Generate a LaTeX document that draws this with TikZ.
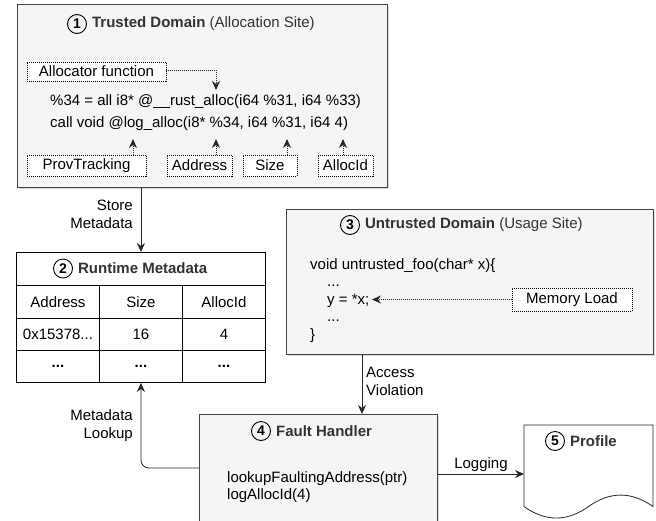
\documentclass[tikz,border=0pt]{standalone}
\usepackage{fontspec}
\setmainfont{Liberation Sans}
\usetikzlibrary{arrows.meta}
\definecolor{boxfill}{HTML}{F5F5F5}
\definecolor{boxline}{HTML}{444444}
\definecolor{titlecol}{HTML}{333333}
\begin{document}
\begin{tikzpicture}[x=1pt,y=-1pt, font=\fontsize{15}{17.5}\selectfont,
 dombox/.style={draw=boxline, fill=boxfill, line width=0.9pt, inner sep=0pt, anchor=north west},
 shadowbox/.style={fill=black!14, draw=none},
 lbl/.style={draw=black, dash pattern=on 1pt off 1pt, fill=white, line width=0.7pt, inner sep=0pt},
 circnum/.style={circle, draw=black, line width=0.9pt, inner sep=0pt, minimum size=19pt, font=\fontsize{14}{14}\selectfont\bfseries},
 ttl/.style={anchor=west, text=titlecol, inner sep=0pt},
 codeln/.style={anchor=base west, inner sep=0pt},
 arr/.style={-{Stealth[length=9pt,width=8pt,inset=3pt]}, line width=0.8pt, draw=black!85},
 darr/.style={arr, dash pattern=on 1pt off 1pt},
 cell/.style={draw=black, line width=0.9pt, fill=white, inner sep=0pt, anchor=north west},
 sidelbl/.style={inner sep=0pt, align=right, anchor=east},
]
\useasboundingbox (0,0) rectangle (656,520);
\clip (0,0) rectangle (656,520);
\fill[white] (0,0) rectangle (656,520);

% ---------- 1 Trusted Domain ----------
\fill[shadowbox] (19,6) rectangle (389,189);
\node[dombox, minimum width=370pt, minimum height=183pt] (trusted) at (17,4) {};
\node[circnum] (c1) at (77,24) {1};
\node[ttl] (t1) at ([xshift=5pt]c1.east) {\textbf{Trusted Domain} (Allocation Site)};

\node[lbl, minimum width=139pt, minimum height=19pt] (alloc) at (96.5,71.5) {Allocator function};
\node[codeln] (l1) at (50,105.5) {\%34 = all i8* @\_\_rust\_alloc(i64 \%31, i64 \%33)};
\node[codeln] (l2) at (50,127.5) {call void @log\_alloc(i8* \%34, i64 \%31, i64 4)};
\coordinate (atip) at (216,90);
\draw[darr] (alloc.east |- 0,70) -| (atip);

\node[lbl, minimum width=119pt, minimum height=21pt] (prov) at (86.5,165.5) {ProvTracking};
\node[lbl, minimum width=65pt, minimum height=21pt] (addr) at (199.5,165.5) {Address};
\node[lbl, minimum width=54pt, minimum height=21pt] (size) at (270,165.5) {Size};
\node[lbl, minimum width=55pt, minimum height=21pt] (aid) at (345.5,165.5) {AllocId};
\coordinate (p1) at (133,139);
\coordinate (p2) at (216,139);
\coordinate (p3) at (287,139);
\coordinate (p4) at (343,139);
\draw[darr] (prov.north -| p1) -- (p1);
\draw[darr] (addr.north -| p2) -- (p2);
\draw[darr] (size.north -| p3) -- (p3);
\draw[darr] (aid.north -| p4) -- (p4);

% ---------- 2 Runtime Metadata ----------
\node[cell, minimum width=249pt, minimum height=33pt] (rt) at (16,252) {};
\node[circnum] (c2) at (63,268.5) {2};
\node[ttl] (t2) at ([xshift=5pt]c2.east) {\textbf{Runtime Metadata}};
\node[cell, minimum width=83pt, minimum height=32.5pt] (h1) at (16,285) {Address};
\node[cell, minimum width=83pt, minimum height=32.5pt] (h2) at (99,285) {Size};
\node[cell, minimum width=83pt, minimum height=32.5pt] (h3) at (182,285) {AllocId};
\node[cell, minimum width=83pt, minimum height=32.5pt] (r1) at (16,317.5) {0x15378...};
\node[cell, minimum width=83pt, minimum height=32.5pt] (r2) at (99,317.5) {16};
\node[cell, minimum width=83pt, minimum height=32.5pt] (r3) at (182,317.5) {4};
\node[cell, minimum width=83pt, minimum height=32pt] (d1) at (16,350) {\textbf{...}};
\node[cell, minimum width=83pt, minimum height=32pt] (d2) at (99,350) {\textbf{...}};
\node[cell, minimum width=83pt, minimum height=32pt] (d3) at (182,350) {\textbf{...}};

\draw[arr] (trusted.south -| rt.north) -- (rt.north);
\node[sidelbl] (sm) at (133,214.5) {Store\\Metadata};

% ---------- 3 Untrusted Domain ----------
\fill[shadowbox] (288,211) rectangle (655,356);
\node[dombox, minimum width=367pt, minimum height=145pt] (untrusted) at (286,209) {};
\node[circnum] (c3) at (350,225) {3};
\node[ttl] (t3) at ([xshift=5pt]c3.east) {\textbf{Untrusted Domain} (Usage Site)};
\node[codeln] (u1) at (310,269) {void untrusted\_foo(char* x)\{};
\node[codeln] (u2) at (327,286.5) {...};
\node[codeln] (u3) at (327,304) {y = *x;};
\node[codeln] (u4) at (327,321.5) {...};
\node[codeln] (u5) at (310,339) {\}};
\node[lbl, minimum width=120pt, minimum height=23pt] (mload) at (572,299.5) {Memory Load};
\coordinate (mtip) at (372,299.5);
\draw[darr] (mload.west) -- (mtip);

% ---------- 4 Fault Handler ----------
\fill[shadowbox] (201,416) rectangle (439,530);
\node[dombox, minimum width=238pt, minimum height=115pt] (fault) at (199,414) {};
\node[circnum] (c4) at (261,431) {4};
\node[ttl] (t4) at ([xshift=5pt]c4.east) {\textbf{Fault Handler}};
\node[codeln] (f1) at (227,482) {lookupFaultingAddress(ptr)};
\node[codeln] (f2) at (227,499) {logAllocId(4)};

\coordinate (ax) at (362,0);
\draw[arr] (untrusted.south -| ax) -- (fault.north -| ax);
\node[inner sep=0pt, align=left, anchor=west] (av) at (366,381.5) {Access\\Violation};

\coordinate (mlk) at (0,468);
\draw[arr, rounded corners=8pt] (fault.west |- mlk) -| (d2.south);
\node[sidelbl] (ml) at (133,425.5) {Metadata\\Lookup};

% ---------- 5 Profile ----------
\node[inner sep=0pt, minimum width=129pt, minimum height=94pt, anchor=north west] (profile) at (524,425) {};
\draw[black!85, line width=0.8pt, fill=white]
  (524,425) -- (653,425) -- (653,506.55)
  .. controls (631.5,491.25) and (610,491.25) .. (588.5,506.55)
  .. controls (567,521.85) and (545.5,521.85) .. (524,506.55) -- cycle;
\node[circnum] (c5) at (555,441) {5};
\node[ttl] (t5) at ([xshift=5pt]c5.east) {\textbf{Profile}};

\coordinate (lg) at (0,474);
\draw[arr] (fault.east |- lg) -- node[above=1pt, inner sep=1pt] {Logging} (profile.west |- lg);
\end{tikzpicture}
\end{document}
